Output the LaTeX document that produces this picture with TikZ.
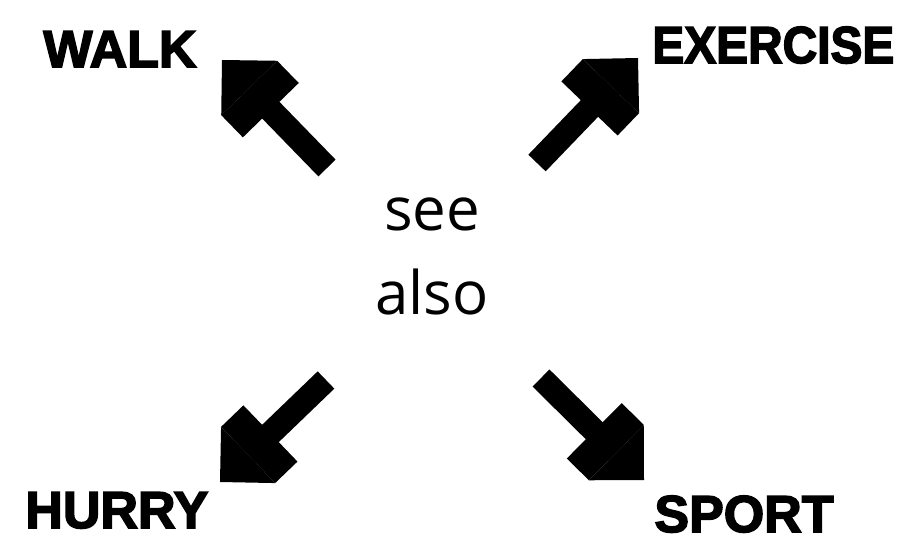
\documentclass[tikz,border=0pt]{standalone}
\usepackage{fontspec}
\usepackage{graphicx}
\setmainfont{Open Sans}
\newfontfamily\heavy{Liberation Sans}[FakeBold=3]
\usetikzlibrary{arrows.meta}

\begin{document}
\begin{tikzpicture}[x=0.5pt, y=-0.5pt,
  word/.style={font=\heavy\bfseries\fontsize{26}{26}\selectfont, inner sep=0pt, anchor=base west},
  fat/.style={line width=12pt, -{Rectangle[length=15.5pt, width=39pt, sep=0pt, line width=0pt]Triangle[length=19.5pt, width=39pt, sep=0pt, line width=0pt]}}]
  \useasboundingbox (0,0) rectangle (904,541);
  \node[font=\fontsize{30}{42}\selectfont, align=center, inner sep=0pt] (see) at (432,256) {see\\also};
  \node[word] (walk) at (43,67) {WALK};
  \node[word] (exercise) at (652,63) {\scalebox{0.92}[1]{EXERCISE}};
  \node[word] (hurry) at (25,528) {HURRY};
  \node[word] (sport) at (654,532) {SPORT};
  % arrow ends
  \coordinate (nw0) at (327,168); \coordinate (nw1) at (222,60);
  \coordinate (ne0) at (537,163); \coordinate (ne1) at (638,58);
  \coordinate (sw0) at (326,380); \coordinate (sw1) at (220,482);
  \coordinate (se0) at (541,378); \coordinate (se1) at (644,480);
  \draw[fat] (nw0) -- (nw1);
  \draw[fat] (ne0) -- (ne1);
  \draw[fat] (sw0) -- (sw1);
  \draw[fat] (se0) -- (se1);
\end{tikzpicture}
\end{document}
